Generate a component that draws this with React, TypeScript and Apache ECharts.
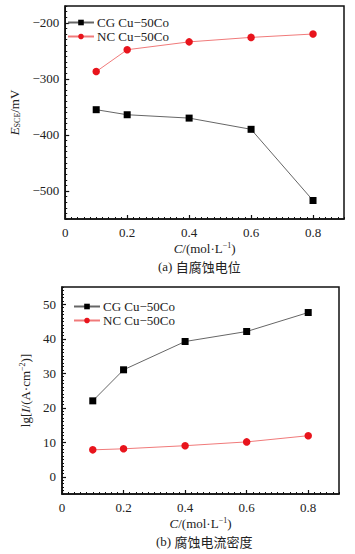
import React, { useEffect, useRef } from "react";
import * as echarts from "echarts";

const concentrations = [0.1, 0.2, 0.4, 0.6, 0.8];
const potentialCG = [-355, -364, -370, -390, -517];
const potentialNC = [-287, -248, -234, -226, -220];
const currentCG = [22.0, 31.0, 39.2, 42.1, 47.6];
const currentNC = [7.8, 8.1, 9.0, 10.1, 11.9];
const xTicks = [0, 0.2, 0.4, 0.6, 0.8];
const yTicksA = [-500, -400, -300, -200];
const yTicksB = [0, 10, 20, 30, 40, 50];
const seriesNames = ["CG Cu\u221250Co", "NC Cu\u221250Co"];
const captionA = ["(a)", "自腐蚀电位"];
const captionB = ["(b)", "腐蚀电流密度"];

const FONT = "Liberation Serif";
const CJK = "Noto Sans CJK SC";
const TXT = "#222";

const pairs = (xs: number[], ys: number[]) => xs.map((x, i) => [x, ys[i]]);
const minus = (v: number) => String(v).replace("-", "\u2212");

const tickRich = { t: { fontFamily: FONT, fontSize: 13, color: TXT } };

function mainX(grid: number) {
  return {
    type: "value",
    gridIndex: grid,
    position: "bottom",
    min: 0,
    max: 0.9,
    axisLine: { show: true, onZero: false, lineStyle: { color: "#111", width: 1.5 } },
    axisTick: { show: true, inside: true, length: 4, customValues: xTicks, lineStyle: { color: "#111", width: 1.2 } },
    axisLabel: { show: true, customValues: xTicks, margin: 7, formatter: (v: number) => `{t|${v}}`, rich: tickRich },
    splitLine: { show: false },
    name: "{i|C}{n|/(mol·L}{s|\u22121}{n|)}",
    nameLocation: "middle",
    nameGap: 22,
    nameTextStyle: {
      rich: {
        i: { fontFamily: FONT, fontStyle: "italic", fontSize: 13, color: TXT },
        n: { fontFamily: FONT, fontSize: 13, color: TXT },
        s: { fontFamily: FONT, fontSize: 8, color: TXT, verticalAlign: "top", padding: [0, 0, 6, 0] },
      },
    },
  };
}
function minorX(grid: number) {
  return {
    type: "value",
    gridIndex: grid,
    position: "bottom",
    min: 0,
    max: 0.9,
    interval: 0.02,
    axisLine: { show: false, onZero: false },
    axisTick: { show: true, inside: true, length: 2, lineStyle: { color: "#111", width: 1 } },
    axisLabel: { show: false },
    splitLine: { show: false },
  };
}

function App() {
  const ref = useRef<HTMLDivElement>(null);
  useEffect(() => {
    if (!ref.current) return;
    const chart = echarts.init(ref.current, undefined, { renderer: "svg" });
    const cgStyle = {
      type: "line",
      symbol: "rect",
      symbolSize: 7,
      itemStyle: { color: "#000" },
      lineStyle: { color: "#666", width: 1 },
    };
    const ncStyle = {
      type: "line",
      symbol: "circle",
      symbolSize: 7.5,
      itemStyle: { color: "#e8141c" },
      lineStyle: { color: "#f07a7a", width: 1 },
    };
    const legendBase = {
      orient: "vertical",
      itemWidth: 26,
      itemHeight: 7,
      itemGap: 1,
      formatter: (name: string) => `{t|${name}}`,
      textStyle: { fontFamily: FONT, fontSize: 13, color: TXT, padding: [0, 0, 0, -2], rich: { t: { fontFamily: FONT, fontSize: 13, color: TXT } } },
      selectedMode: false,
    };
    const captionStyle = (parts: string[]) => ({
      text: `{l|${parts[0]}} {c|${parts[1]}}`,
      rich: {
        l: { fontFamily: FONT, fontSize: 13, fill: TXT },
        c: { fontFamily: CJK, fontSize: 13, fill: TXT },
      },
    });
    chart.setOption({
      animation: false,
      backgroundColor: "#fff",
      textStyle: { fontFamily: FONT },
      grid: [
        { left: 59, top: 6, width: 285, height: 213, show: true, borderColor: "#111", borderWidth: 1.5, backgroundColor: "transparent" },
        { left: 62, top: 287, width: 277, height: 207, show: true, borderColor: "#111", borderWidth: 1.5, backgroundColor: "transparent" },
      ],
      legend: [
        { ...legendBase, left: 62, top: 11, data: seriesNames },
        { ...legendBase, left: 68, top: 295, data: seriesNames },
      ],
      xAxis: [mainX(0), minorX(0), mainX(1), minorX(1)],
      yAxis: [
        {
          type: "value",
          gridIndex: 0,
          position: "left",
          min: -550,
          max: -170,
          axisLine: { show: true, onZero: false, lineStyle: { color: "#111", width: 1.5 } },
          axisTick: { show: true, inside: true, length: 4, customValues: yTicksA, lineStyle: { color: "#111", width: 1.2 } },
          axisLabel: { show: true, customValues: yTicksA, margin: 6, formatter: (v: number) => `{t|${minus(v)}}`, rich: tickRich },
          splitLine: { show: false },
          name: "{i|E}{s|SCE}{n|/mV}",
          nameLocation: "middle",
          nameGap: 30,
          nameRotate: 90,
          nameTextStyle: {
            rich: {
              i: { fontFamily: FONT, fontStyle: "italic", fontSize: 13, color: TXT },
              s: { fontFamily: FONT, fontSize: 8, color: TXT, verticalAlign: "bottom", padding: [6, 0, 0, 0] },
              n: { fontFamily: FONT, fontSize: 13, color: TXT },
            },
          },
        },
        {
          type: "value",
          gridIndex: 0,
          position: "left",
          min: -550,
          max: -170,
          interval: 10,
          axisLine: { show: false, onZero: false },
          axisTick: { show: true, inside: true, length: 2, lineStyle: { color: "#111", width: 1 } },
          axisLabel: { show: false },
          splitLine: { show: false },
        },
        {
          type: "value",
          gridIndex: 1,
          position: "left",
          min: -5,
          max: 55,
          axisLine: { show: true, onZero: false, lineStyle: { color: "#111", width: 1.5 } },
          axisTick: { show: true, inside: true, length: 4, customValues: yTicksB, lineStyle: { color: "#111", width: 1.2 } },
          axisLabel: { show: true, customValues: yTicksB, margin: 6, formatter: (v: number) => `{t|${v}}`, rich: tickRich },
          splitLine: { show: false },
          name: "{n|lg[}{i|I}{n|/(A·cm}{s|\u22122}{n|)]}",
          nameLocation: "middle",
          nameGap: 21,
          nameRotate: 90,
          nameTextStyle: {
            rich: {
              i: { fontFamily: FONT, fontStyle: "italic", fontSize: 13, color: TXT },
              s: { fontFamily: FONT, fontSize: 8, color: TXT, verticalAlign: "top", padding: [0, 0, 6, 0] },
              n: { fontFamily: FONT, fontSize: 13, color: TXT },
            },
          },
        },
        {
          type: "value",
          gridIndex: 1,
          position: "left",
          min: -5,
          max: 55,
          interval: 1,
          axisLine: { show: false, onZero: false },
          axisTick: { show: true, inside: true, length: 2, lineStyle: { color: "#111", width: 1 } },
          axisLabel: { show: false },
          splitLine: { show: false },
        },
      ],
      series: [
        { ...cgStyle, name: seriesNames[0], xAxisIndex: 0, yAxisIndex: 0, data: pairs(concentrations, potentialCG) },
        { ...ncStyle, name: seriesNames[1], xAxisIndex: 0, yAxisIndex: 0, data: pairs(concentrations, potentialNC) },
        { ...cgStyle, name: seriesNames[0], xAxisIndex: 2, yAxisIndex: 2, data: pairs(concentrations, currentCG) },
        { ...ncStyle, name: seriesNames[1], xAxisIndex: 2, yAxisIndex: 2, data: pairs(concentrations, currentNC) },
      ],
      graphic: [
        { type: "text", left: 158, top: 260, style: captionStyle(captionA) },
        { type: "text", left: 156, top: 535, style: captionStyle(captionB) },
      ],
    });
    return () => chart.dispose();
  }, []);
  return <div ref={ref} style={{ position: "fixed", left: 0, top: 0, width: 355, height: 554 }} />;
}

export default App;
